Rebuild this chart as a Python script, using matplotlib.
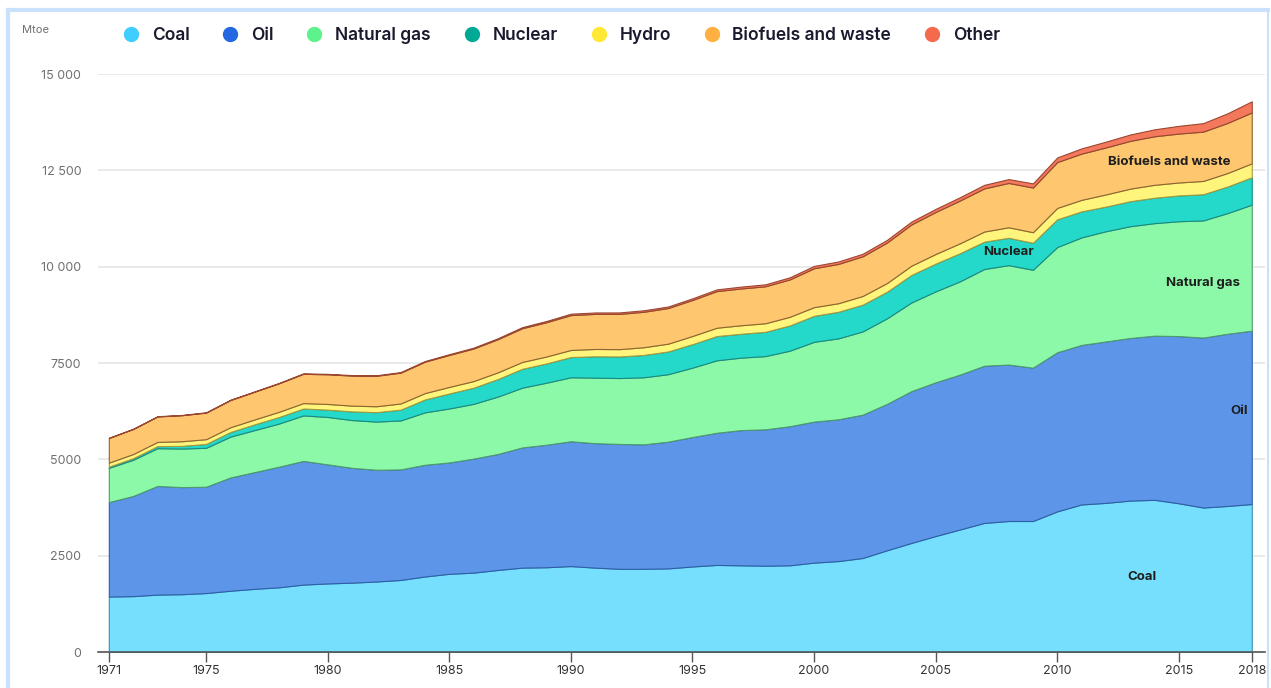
import matplotlib
matplotlib.use("Agg")
import matplotlib.pyplot as plt
from matplotlib.lines import Line2D
from matplotlib.ticker import FuncFormatter
import numpy as np

plt.rcParams["font.family"] = ["Inter", "DejaVu Sans"]

# World total energy supply by source, Mtoe
years = list(range(1971, 2019))
coal = [1440, 1450, 1490, 1500, 1530, 1590, 1640, 1680, 1750, 1780,
        1800, 1830, 1870, 1960, 2030, 2060, 2130, 2190, 2200, 2230,
        2190, 2160, 2160, 2170, 2220, 2260, 2250, 2240, 2250, 2320,
        2360, 2440, 2640, 2830, 3010, 3180, 3350, 3400, 3400, 3650,
        3830, 3870, 3930, 3950, 3860, 3750, 3790, 3840]
oil = [2450, 2600, 2820, 2780, 2760, 2940, 3030, 3130, 3210, 3090,
       2980, 2900, 2870, 2900, 2890, 2960, 3010, 3120, 3180, 3240,
       3230, 3240, 3230, 3290, 3360, 3430, 3510, 3540, 3610, 3660,
       3680, 3720, 3800, 3940, 3990, 4020, 4080, 4060, 3980, 4130,
       4140, 4190, 4220, 4260, 4340, 4410, 4470, 4500]
gas = [890, 940, 980, 1000, 1010, 1060, 1090, 1120, 1180, 1230,
       1240, 1250, 1270, 1360, 1400, 1420, 1490, 1550, 1610, 1660,
       1700, 1710, 1740, 1750, 1800, 1880, 1880, 1900, 1960, 2070,
       2100, 2160, 2220, 2300, 2360, 2420, 2510, 2580, 2540, 2730,
       2790, 2860, 2900, 2920, 2980, 3040, 3130, 3270]
nuclear = [29, 40, 53, 70, 100, 120, 150, 170, 180, 190,
           225, 245, 280, 335, 390, 420, 455, 490, 500, 525,
           555, 560, 580, 590, 610, 630, 620, 630, 655, 675,
           690, 695, 690, 715, 720, 730, 710, 710, 700, 720,
           675, 640, 650, 660, 670, 680, 690, 710]
hydro = [105, 108, 110, 120, 123, 124, 127, 135, 140, 147,
         149, 153, 160, 165, 170, 172, 174, 178, 180, 184,
         190, 190, 200, 202, 212, 216, 220, 222, 224, 225,
         222, 225, 226, 240, 250, 257, 262, 273, 274, 295,
         300, 315, 325, 335, 335, 345, 350, 362]
biofuels = [640, 650, 660, 675, 690, 705, 720, 740, 760, 770,
            780, 790, 800, 815, 830, 845, 860, 875, 890, 905,
            910, 915, 920, 925, 935, 950, 955, 960, 970, 1010,
            1020, 1030, 1050, 1070, 1090, 1110, 1120, 1150, 1160, 1190,
            1200, 1220, 1240, 1260, 1270, 1280, 1300, 1320]
other = [6, 6, 7, 7, 8, 8, 9, 10, 11, 12,
         13, 14, 15, 17, 20, 22, 25, 28, 32, 36,
         37, 38, 39, 40, 42, 45, 48, 51, 55, 60,
         63, 66, 70, 75, 80, 86, 92, 100, 108, 120,
         135, 150, 165, 180, 200, 220, 250, 290]

names = ["Coal", "Oil", "Natural gas", "Nuclear", "Hydro", "Biofuels and waste", "Other"]
fill_cols = ["#76DFFD", "#5D96E8", "#8CF9A9", "#24D8CA", "#FFF47C", "#FDC66F", "#F4785B"]
edge_cols = ["#3C8FB0", "#2F5DA8", "#4F9C6A", "#168C84", "#A59B3E", "#8E6530", "#9A4630"]
dot_cols = ["#40CDFF", "#2368E0", "#5EF28C", "#00A896", "#FFE935", "#FFB041", "#F36B4C"]

fig = plt.figure(figsize=(12.71, 6.88), dpi=100)
ax = fig.add_axes([0.077, 0.0523, 0.918, 0.8401])

series = [coal, oil, gas, nuclear, hydro, biofuels, other]
polys = ax.stackplot(years, *series, colors=fill_cols, zorder=2)
for p, ec in zip(polys, edge_cols):
    p.set_edgecolor(ec)
    p.set_linewidth(0.8)

ax.set_xlim(1970.55, 2018.53)
ax.set_ylim(0, 15000)
ax.set_yticks([0, 2500, 5000, 7500, 10000, 12500, 15000])
ax.yaxis.set_major_formatter(FuncFormatter(
    lambda v, p: f"{int(v):,}".replace(",", " ") if v >= 10000 else f"{int(v)}"))
ax.set_xticks([1971, 1975, 1980, 1985, 1990, 1995, 2000, 2005, 2010, 2015, 2018])
ax.grid(axis="y", color="#E6E6E6", linewidth=1.2, zorder=0)
ax.set_axisbelow(True)
for s in ["top", "right", "left"]:
    ax.spines[s].set_visible(False)
ax.spines["bottom"].set_color("#555555")
ax.spines["bottom"].set_linewidth(1.2)
ax.tick_params(axis="y", length=0, labelsize=9, labelcolor="#707070", pad=12)
ax.tick_params(axis="x", length=7, width=1, color="#555555", labelsize=9,
               labelcolor="#333333", pad=2)

# labels inside the areas
lab_kw = dict(fontsize=9.5, fontweight="bold", color="#1E1E1E", ha="center", va="center", zorder=5)
ax.text(2013.5, 1950, "Coal", **lab_kw)
ax.text(2017.5, 6250, "Oil", **lab_kw)
ax.text(2016.0, 9580, "Natural gas", **lab_kw)
ax.text(2008.0, 10380, "Nuclear", **lab_kw)
ax.text(2014.6, 12720, "Biofuels and waste", **lab_kw)

fig.text(0.017, 0.957, "Mtoe", fontsize=8, color="#707070", va="center")

handles = [Line2D([], [], marker="o", linestyle="none", markersize=10,
                  markerfacecolor=c, markeredgecolor=c) for c in dot_cols]
leg = fig.legend(handles, names, ncol=7, loc="center left", bbox_to_anchor=(0.077, 0.949),
                 frameon=False, handletextpad=0.2, columnspacing=1.35,
                 prop={"size": 12.5, "weight": "semibold"})
for t in leg.get_texts():
    t.set_color("#1A1A2E")

# light blue frame round the card
fc = "#C9E1FB"
fig.add_artist(Line2D([0.0063, 0.0063], [0, 0.985], transform=fig.transFigure, color=fc, linewidth=3))
fig.add_artist(Line2D([0.0063, 0.9975], [0.985, 0.985], transform=fig.transFigure, color=fc, linewidth=3))
fig.add_artist(Line2D([0.9975, 0.9975], [0, 0.985], transform=fig.transFigure, color=fc, linewidth=1.5))

fig.savefig("out.png", dpi=100)
